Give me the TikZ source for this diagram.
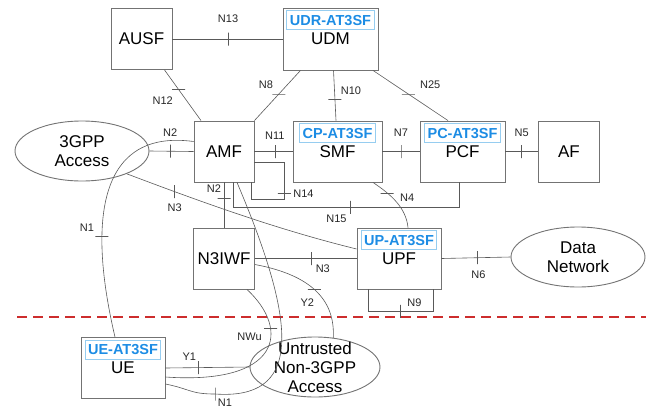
\documentclass[tikz,border=0pt]{standalone}
\usepackage{fontspec}
\setmainfont{Liberation Sans}
\usetikzlibrary{shapes.geometric}
\definecolor{tagblue}{RGB}{28,140,228}
\definecolor{tagedge}{RGB}{150,205,240}
\definecolor{sepred}{RGB}{205,45,45}
\newcommand{\boxfont}{\fontsize{17}{19}\selectfont}
\newcommand{\ifont}{\fontsize{11}{13}\selectfont}
\newcommand{\tagfont}{\fontsize{14.5}{16}\selectfont\bfseries}

\begin{document}
\begin{tikzpicture}[x=1pt, y=-1pt,
    nf/.style={draw=black!55, line width=0.9pt, minimum width=61pt, minimum height=61pt, inner sep=0pt, font=\boxfont},
    acc/.style={draw=black!55, line width=0.9pt, ellipse, minimum width=134pt, minimum height=60pt, inner sep=0pt},
    acctext/.style={font=\boxfont, align=center, inner sep=0pt},
    sfid/.style={draw=tagedge, line width=1pt, text=tagblue, font=\tagfont, inner sep=3pt, minimum height=19pt},
    sf/.style={label={[sfid, anchor=north, yshift=-2.5pt]north:#1}},
    link/.style={draw=black!65, line width=0.6pt},
    vtick/.style={draw=black!65, line width=0.6pt, minimum width=0pt, minimum height=13pt, inner sep=0pt, outer sep=0pt},
    htick/.style={vtick, minimum width=13pt, minimum height=0pt},
    ilab/.style={font=\ifont, inner sep=0pt, text=black!85},
    lab/.style n args={3}{label={[ilab, xshift=#1pt, yshift=#2pt]center:#3}},
]
\useasboundingbox (0,0) rectangle (646,408);

\node[nf] (ausf) at (141.5,39) {AUSF};
\node[nf, minimum width=95pt, minimum height=62pt, sf=UDR-AT3SF] (udm) at (330.5,39) {UDM};
\node[nf, minimum width=60pt] (amf) at (224,151.5) {AMF};
\node[nf, minimum width=89pt, sf=CP-AT3SF] (smf) at (337.5,151.5) {SMF};
\node[nf, minimum width=85pt, sf=PC-AT3SF] (pcf) at (462.5,151.5) {PCF};
\node[nf] (af) at (569,151.5) {AF};
\node[nf] (n3iwf) at (224,258.5) {N3IWF};
\node[nf, minimum width=84pt, sf=UP-AT3SF] (upf) at (399,258.5) {UPF};
\node[nf, minimum width=84pt, sf=UE-AT3SF] (ue) at (123,368) {UE};
\node[acc, label={[acctext]center:{3GPP\\Access}}] (gpp) at (82,151) {};
\node[acc, label={[acctext]center:{Data\\Network}}] (dn) at (578,257) {};
\node[acc, minimum width=130pt, label={[acctext]center:{Untrusted\\Non-3GPP\\Access}}] (ngpp) at (315,367) {};

\draw[sepred, dashed, dash pattern=on 10pt off 6pt, line width=1.3pt] (17,317) -- (646,317);

\draw[link] (ausf.east) -- node[pos=.505, vtick, lab={0}{20}{N13}] (k13) {} (udm.west);
\draw[link] ([xshift=23pt]ausf.south) -- node[pos=.39, htick, lab={-16}{-11}{N12}] (k12) {} ([xshift=-23pt]amf.north);
\draw[link] ([xshift=-30pt]udm.south) -- node[pos=.47, htick, lab={-13}{9}{N8}] (k8) {} (amf.north east);
\draw[link] ([xshift=3pt]udm.south) -- node[pos=.57, htick, lab={16}{8}{N10}] (k10) {} ([xshift=-1.5pt]smf.north);
\draw[link] ([xshift=42.5pt]udm.south) -- node[pos=.47, htick, lab={22}{9}{N25}] (k25) {} ([xshift=-14.5pt]pcf.north);
\draw[link] (amf.east) -- node[pos=.56, vtick, lab={-1}{16}{N11}] (k11) {} (smf.west);
\draw[link] (smf.east) -- node[pos=.5, vtick, lab={0}{19}{N7}] (k7) {} (pcf.west);
\draw[link] (pcf.east) -- node[pos=.5, vtick, lab={0}{19}{N5}] (k5) {} (af.west);
\draw[link] (gpp.east) -- node[pos=.47, vtick, lab={0}{19}{N2}] (k2a) {} (amf.west);
\draw[link] ([xshift=-8pt]ue.north) .. controls +(-30,-128) and +(-89,-12) .. node[pos=.3, htick, lab={-15}{8}{N1}] (k1a) {} ([yshift=10pt]amf.west);
\draw[link] (gpp.-27) .. controls +(82,31) and +(-77,-19) .. node[pos=.2, vtick, lab={0}{-16}{N3}] (k3a) {} ([yshift=9.5pt]upf.west);
\draw[link] (amf.south) -- node[pos=.35, htick, lab={-10}{10}{N2}] (k2b) {} (n3iwf.north);
\draw[link] ([yshift=-10.5pt]amf.east) -- ++(30,0) -- node[pos=.84, htick, lab={19}{-1}{N14}] (k14) {} ++(0,37) -| ([xshift=27pt]amf.south);
\draw[link] ([xshift=9pt]amf.south) -- ++(0,25) -| node[pos=.26, vtick, lab={-14}{-11}{N15}] (k15) {} ([xshift=-3.5pt]pcf.south);
\draw[link] ([xshift=35.5pt]smf.south) .. controls +(18,12) and +(-2,-20) .. node[pos=.28, htick, lab={20}{-5}{N4}] (k4) {} ([xshift=9pt]upf.north);
\draw[link] (n3iwf.east) -- node[pos=.55, vtick, lab={12}{-10}{N3}] (k3b) {} (upf.west);
\draw[link] (upf.east) -- node[pos=.52, vtick, lab={1}{-17}{N6}] (k6) {} (dn.west);
\draw[link] ([xshift=-31pt]upf.south) -- ++(0,22) -| node[pos=.25, vtick, lab={14}{9}{N9}] (k9) {} ([xshift=34pt]upf.south);
\draw[link] ([yshift=-6pt]n3iwf.east) .. controls +(56,10.5) and +(2,-38) .. node[pos=.48, htick, lab={-7}{-13}{Y2}] (ky2) {} (ngpp.58);
\draw[link] ([xshift=23pt]n3iwf.south) .. controls +(44,41) and +(115,8) .. node[pos=.3, htick, lab={-21}{-9}{NWu}] (kwu) {} ([yshift=-9pt]ue.east);
\draw[link] (ue.east) -- node[pos=.39, vtick, lab={-9}{11}{Y1}] (ky1) {} (ngpp.west);
\coordinate (n1low) at (215,394);
\draw[link] ([xshift=13pt]amf.south) .. controls +(63,148) and +(85,6) .. (n1low) node[vtick, lab={10}{-8.5}{N1}] (k1b) {} .. controls +(-25,0) and +(25,5) .. ([yshift=-16pt]ue.east);
\end{tikzpicture}
\end{document}
